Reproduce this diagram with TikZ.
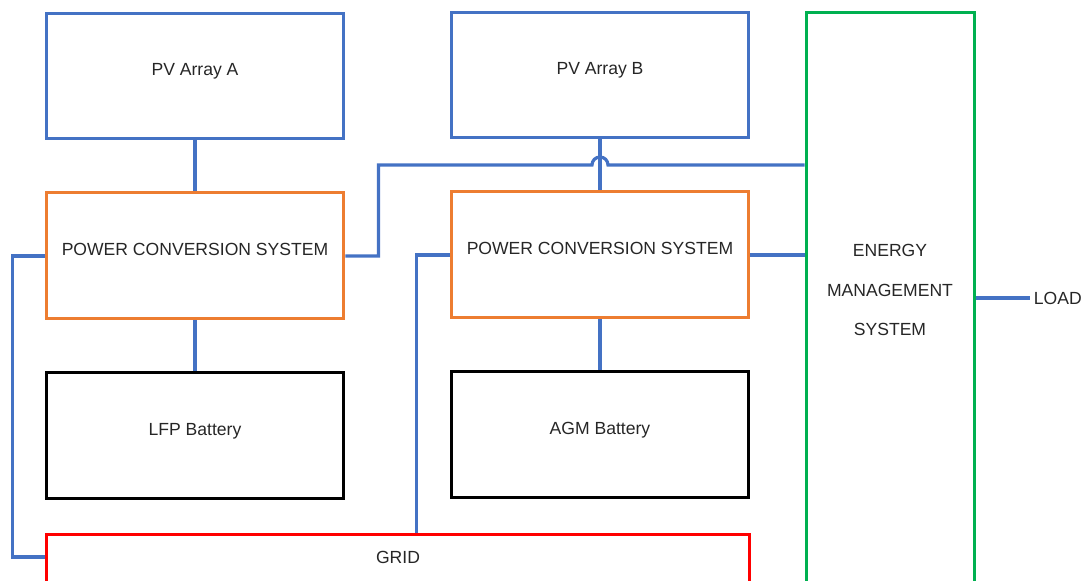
\documentclass[tikz,border=0pt]{standalone}
\usepackage{fontspec}
\setmainfont{Liberation Sans}
\usetikzlibrary{positioning,calc}
\definecolor{pvblue}{RGB}{68,114,196}
\definecolor{pcsorange}{RGB}{237,125,49}
\definecolor{emsgreen}{RGB}{0,176,80}
\definecolor{gridred}{RGB}{255,0,0}
\definecolor{txtgray}{RGB}{38,38,38}
\tikzset{
  box/.style={
    draw,
    line width=1.7pt,
    minimum width=5.96cm,
    minimum height=2.52cm,
    text height=7pt,
    text depth=8pt,
    font=\fontsize{10}{12}\selectfont,
    text=txtgray
  },
  pvbox/.style={box,draw=pvblue},
  pcsbox/.style={box,draw=pcsorange},
  batbox/.style={box,draw=black},
  emsbox/.style={draw=emsgreen,line width=1.7pt,minimum width=3.38cm,minimum height=12.56cm},
  gridbox/.style={draw=gridred,line width=1.7pt,minimum width=14.08cm,minimum height=2.12cm},
  lbl/.style={font=\fontsize{10}{22.7}\selectfont,text=txtgray,inner sep=2pt},
  wire/.style={line width=1.8pt,pvblue}
}
\begin{document}
\begin{tikzpicture}[x=0.02cm,y=-0.02cm,node distance=1.02cm]
  \useasboundingbox (0,0) rectangle (1086,581);
  \clip (0,0) rectangle (1086,581);
  \node[pvbox] (pvA) at (195,76) {PV Array A};
  \node[pcsbox,below=of pvA] (pcsA) {POWER CONVERSION SYSTEM};
  \node[batbox,below=of pcsA] (lfp) {LFP Battery};
  \node[pvbox] (pvB) at (600,75) {PV Array B};
  \node[pcsbox,below=of pvB] (pcsB) {POWER CONVERSION SYSTEM};
  \node[batbox,below=of pcsB] (agm) {AGM Battery};
  \node[emsbox] (ems) at (890.5,326) {};
  \node[lbl,align=center] (emstxt) at (890,290) {ENERGY\\MANAGEMENT\\SYSTEM};
  \node[gridbox] (grid) at (398,587) {};
  \node[lbl] (gridtxt) at (398,557) {GRID};
  \node[lbl,anchor=west] (load) at (1030,298) {LOAD};
  \coordinate (hop) at ($(pvB.south)!.5!(pcsB.north)$);

  \draw[wire] (pvA) -- (pcsA);
  \draw[wire] (pcsA) -- (lfp);
  \draw[wire] (pvB) -- (pcsB);
  \draw[wire] (pcsB) -- (agm);
  \draw[wire] (pcsA.east) -| ([xshift=0.66cm]pcsA.east |- hop) -- ([xshift=-0.16cm]hop)
    arc[start angle=180,end angle=0,radius=0.16cm] -- (hop -| ems.west);
  \draw[wire] (pcsB.east) -- (pcsB.east -| ems.west);
  \draw[wire] (pcsA.west) -| ([xshift=-0.64cm]pcsA.west |- gridtxt) -- (gridtxt -| grid.west);
  \draw[wire] (pcsB.west) -| ([xshift=-0.66cm]pcsB.west |- grid.north);
  \draw[wire] (load.west -| ems.east) -- (load.west);
\end{tikzpicture}
\end{document}
